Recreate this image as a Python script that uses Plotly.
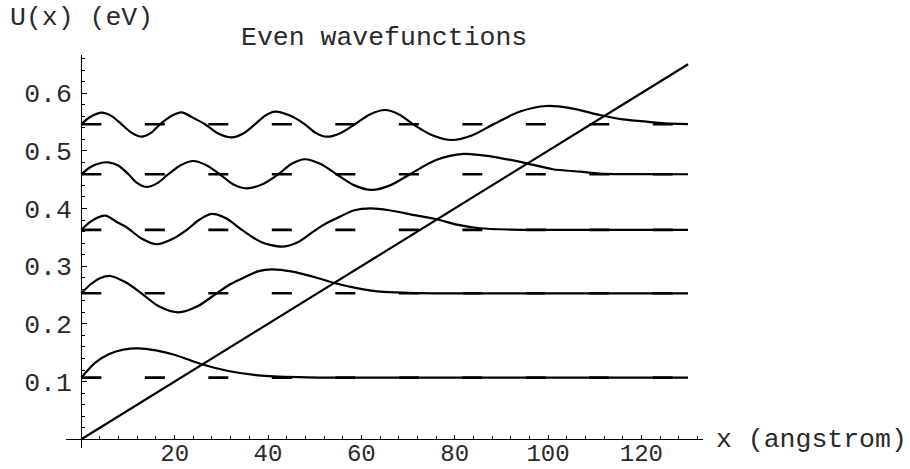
import plotly.graph_objects as go

# ---- data ----
pot_x = [0, 130]
pot_u = [0.0, 0.65]

levels = [0.1068, 0.253, 0.363, 0.4593, 0.5459]
level_x = [0, 130]

wf1_x = [0, 3, 6, 9, 12.2, 16, 20.1, 25.8, 31.5, 38.7, 48.6, 60, 80, 100, 130]
wf1_y = [0.1068, 0.133, 0.148, 0.1555, 0.1577, 0.154, 0.1461, 0.130, 0.1184, 0.1102, 0.1072,
         0.1068, 0.1068, 0.1068, 0.1068]

wf2_x = [0, 2.2, 4, 6.15, 9.5, 12.9, 16.5, 20.8, 25, 29.0, 32, 35, 38, 40.8, 45, 49.7, 54.4, 59,
         64, 70, 78.3, 90, 130]
wf2_y = [0.253, 0.270, 0.279, 0.283, 0.272, 0.253, 0.231, 0.220, 0.231, 0.253, 0.269, 0.281,
         0.2915, 0.2946, 0.291, 0.2818, 0.2704, 0.262, 0.2558, 0.2538, 0.2528, 0.253, 0.253]

wf3_x = [0, 2.3, 5.2, 7.5, 9.7, 12.9, 16.2, 19.5, 22.6, 25.2, 27.9, 31, 34.4, 38.5, 42.9, 46.5,
         49.7, 52, 54.7, 58.5, 61.9, 66, 71, 76.2, 80.5, 85.4, 92, 99.7, 130]
wf3_y = [0.363, 0.379, 0.3875, 0.377, 0.3674, 0.348, 0.338, 0.347, 0.363, 0.380, 0.3905, 0.383,
         0.363, 0.342, 0.3338, 0.342, 0.3598, 0.372, 0.383, 0.397, 0.4003, 0.397, 0.389, 0.3813,
         0.372, 0.3657, 0.3635, 0.363, 0.363]

wf4_x = [0, 1.9, 3.8, 5.8, 8, 10.1, 12, 14.0, 16.3, 18.6, 21.3, 24.0, 26.8, 29.7, 32.5, 35.4,
         38.8, 42.2, 45, 47.9, 51.3, 54.7, 58.4, 62.2, 66.3, 70.4, 76, 81.9, 88, 95.4, 101, 106.9,
         111, 118, 130]
wf4_y = [0.4593, 0.4715, 0.478, 0.480, 0.474, 0.4593, 0.444, 0.4373, 0.444, 0.4593, 0.475,
         0.4823, 0.475, 0.4593, 0.442, 0.435, 0.442, 0.4593, 0.477, 0.4853, 0.477, 0.4593, 0.4405,
         0.4321, 0.4405, 0.4593, 0.484, 0.4945, 0.490, 0.4783, 0.468, 0.4638, 0.4605, 0.4596,
         0.4593]

wf5_x = [0, 1.8, 4.37, 6.5, 8.65, 10.8, 12.94, 14.9, 16.86, 19.2, 21.5, 24, 26.5, 29.3, 32.2,
         34.7, 37.2, 39.4, 41.5, 44.7, 47.9, 50.2, 52.6, 55.6, 58.6, 61.8, 65.1, 68.1, 71.1, 75.2,
         79.4, 83.8, 88.3, 94, 99.7, 105, 111.1, 116, 121.1, 125, 130]
wf5_y = [0.5459, 0.558, 0.566, 0.560, 0.5459, 0.531, 0.5245, 0.531, 0.5459, 0.560, 0.5667,
         0.557, 0.5459, 0.530, 0.5234, 0.530, 0.5459, 0.561, 0.5678, 0.561, 0.5459, 0.531, 0.5244,
         0.531, 0.5459, 0.563, 0.5707, 0.563, 0.5459, 0.527, 0.5187, 0.527, 0.5459, 0.568, 0.5776,
         0.5735, 0.562, 0.5545, 0.5504, 0.5475, 0.5462]

x_ticks = [20, 40, 60, 80, 100, 120]
y_ticks = [0.1, 0.2, 0.3, 0.4, 0.5, 0.6]
y_tick_text = ["0.1", "0.2", "0.3", "0.4", "0.5", "0.6"]

title_text = "Even wavefunctions"
x_label = "x (angstrom)"
y_label = "U(x) (eV)"

# ---- figure ----
FONT = "Liberation Mono, Courier New, monospace"
INK = "#000"
TXT = "#2a2a2a"
FS = 26.5
X_RANGE = [-3.28, 133.2]
Y_RANGE = [-0.0151, 0.666]

fig = go.Figure()

for e in levels:
    fig.add_trace(go.Scatter(x=level_x, y=[e, e], mode="lines",
                             line=dict(color="#000", width=2.6, dash="20px,43.5px"),
                             hoverinfo="skip"))

fig.add_trace(go.Scatter(x=pot_x, y=pot_u, mode="lines",
                         line=dict(color="#000", width=2.2)))

for xs, ys in [(wf1_x, wf1_y), (wf2_x, wf2_y), (wf3_x, wf3_y), (wf4_x, wf4_y), (wf5_x, wf5_y)]:
    fig.add_trace(go.Scatter(x=xs, y=ys, mode="lines",
                             line=dict(color="#000", width=2.2, shape="spline", smoothing=0.8)))

# position of the axes crossing at the origin (paper coords)
x0_paper = (0 - X_RANGE[0]) / (X_RANGE[1] - X_RANGE[0])
y0_paper = (0 - Y_RANGE[0]) / (Y_RANGE[1] - Y_RANGE[0])

minor_x = [v * 4 for v in range(1, 34) if (v * 4) % 20 != 0]
minor_y = [round(v * 0.02, 2) for v in range(1, 34) if v % 5 != 0]

fig.update_layout(
    width=910, height=469,
    margin=dict(l=66, r=207, t=55, b=21, autoexpand=False),
    paper_bgcolor="white", plot_bgcolor="white",
    showlegend=False,
    font=dict(family=FONT, size=FS, color=TXT),
    xaxis=dict(range=X_RANGE, showgrid=False, zeroline=False, automargin=False,
               anchor="free", position=y0_paper,
               showline=True, linecolor=INK, linewidth=1.2,
               tickmode="array", tickvals=x_ticks, ticktext=[str(v) for v in x_ticks],
               ticks="inside", ticklen=4.5, tickwidth=1.2, tickcolor=INK,
               ticklabelstandoff=-8,
               tickfont=dict(family=FONT, size=24, color=TXT),
               minor=dict(tickmode="array", tickvals=minor_x, ticks="inside",
                          ticklen=2.7, tickwidth=1, tickcolor=INK)),
    yaxis=dict(range=Y_RANGE, showgrid=False, zeroline=False, automargin=False,
               anchor="free", position=x0_paper,
               showline=True, linecolor=INK, linewidth=1.2,
               tickmode="array", tickvals=y_ticks, ticktext=y_tick_text,
               ticks="inside", ticklen=4.7, tickwidth=1.2, tickcolor=INK,
               ticklabelstandoff=4,
               tickfont=dict(family=FONT, size=FS, color=TXT),
               minor=dict(tickmode="array", tickvals=minor_y, ticks="inside",
                          ticklen=2.7, tickwidth=1, tickcolor=INK)),
)

def px2paper(px, py):
    return (px - 66) / 637, (448 - py) / 393

tx, ty = px2paper(383.7, 38)
fig.add_annotation(text=title_text, x=tx, y=ty, xref="paper", yref="paper",
                   xanchor="center", yanchor="middle", showarrow=False,
                   font=dict(family=FONT, size=FS, color=TXT))
lx, ly = px2paper(8, 18)
fig.add_annotation(text=y_label, x=lx, y=ly, xref="paper", yref="paper",
                   xanchor="left", yanchor="middle", showarrow=False,
                   font=dict(family=FONT, size=FS, color=TXT))
ax, ay = px2paper(714, 440)
fig.add_annotation(text=x_label, x=ax, y=ay, xref="paper", yref="paper",
                   xanchor="left", yanchor="middle", showarrow=False,
                   font=dict(family=FONT, size=FS, color=TXT))

fig.write_html("out.html")
